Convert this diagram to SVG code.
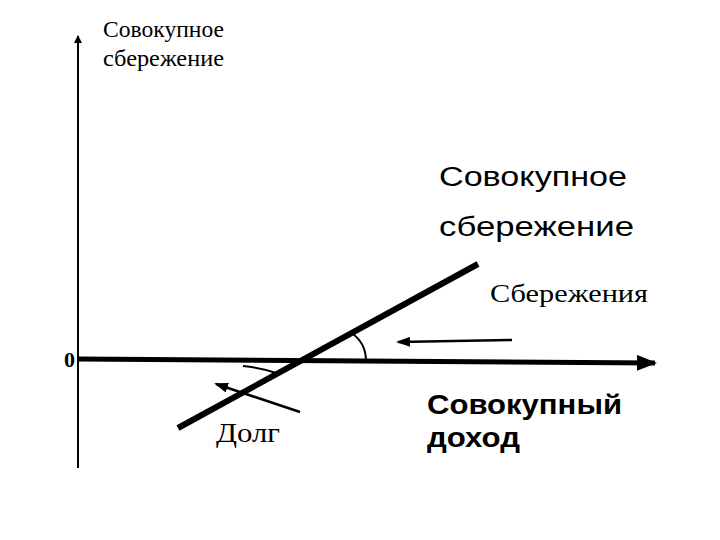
<svg xmlns="http://www.w3.org/2000/svg" width="720" height="540" viewBox="0 0 720 540">
<defs>
<marker id="ah" markerWidth="8" markerHeight="8" refX="7" refY="4" orient="auto" markerUnits="userSpaceOnUse"><path d="M0,0 L8,4 L0,8 Z" fill="#000"/></marker>
<marker id="big" markerWidth="20" markerHeight="16" refX="18" refY="8" orient="auto" markerUnits="userSpaceOnUse"><path d="M0,0 L20,8 L0,16 Z" fill="#000"/></marker>
<marker id="sm" markerWidth="14" markerHeight="10" refX="12" refY="5" orient="auto" markerUnits="userSpaceOnUse"><path d="M0,0 L14,5 L0,10 Z" fill="#000"/></marker>
</defs>
<style>
.s{font-family:"Liberation Serif",serif;fill:#000}
.a{font-family:"Liberation Sans",Arial,sans-serif;fill:#000}
</style>
<rect width="720" height="540" fill="#fff"/>
<g id="connectors" stroke="#000" fill="none">
<line x1="78" y1="468" x2="78" y2="36" stroke-width="2" marker-end="url(#ah)"/>
<line x1="78" y1="359" x2="655" y2="363" stroke-width="5" marker-end="url(#big)"/>
<line x1="178" y1="428" x2="478" y2="264" stroke-width="6"/>
<path d="M350,332 Q366,342 366,361" stroke-width="2"/>
<path d="M243,366 Q262,368 276,373" stroke-width="2"/>
<line x1="512" y1="340" x2="398" y2="342" stroke-width="2.5" marker-end="url(#sm)"/>
<line x1="300" y1="412" x2="216" y2="384" stroke-width="2.5" marker-end="url(#sm)"/>
</g>
<g id="ylabel"><text class="s" x="103" y="37" font-size="23" textLength="121" lengthAdjust="spacingAndGlyphs">Совокупное</text><text class="s" x="103" y="66" font-size="23" textLength="121" lengthAdjust="spacingAndGlyphs">сбережение</text></g>
<g id="curve-label"><text class="a" x="439" y="186" font-size="27" textLength="188" lengthAdjust="spacingAndGlyphs">Совокупное</text><text class="a" x="439" y="236" font-size="27" textLength="195" lengthAdjust="spacingAndGlyphs">сбережение</text></g>
<g id="savings"><text class="s" x="490" y="302" font-size="26" textLength="158" lengthAdjust="spacingAndGlyphs">Сбережения</text></g>
<g id="zero"><text class="s" x="64" y="367" font-size="22" font-weight="bold">0</text></g>
<g id="debt"><text class="s" x="216" y="442" font-size="28" textLength="64" lengthAdjust="spacingAndGlyphs">Долг</text></g>
<g id="xlabel"><text class="a" x="427" y="414" font-size="27" font-weight="bold" textLength="195" lengthAdjust="spacingAndGlyphs">Совокупный</text><text class="a" x="427" y="447" font-size="27" font-weight="bold" textLength="93" lengthAdjust="spacingAndGlyphs">доход</text></g>
</svg>
